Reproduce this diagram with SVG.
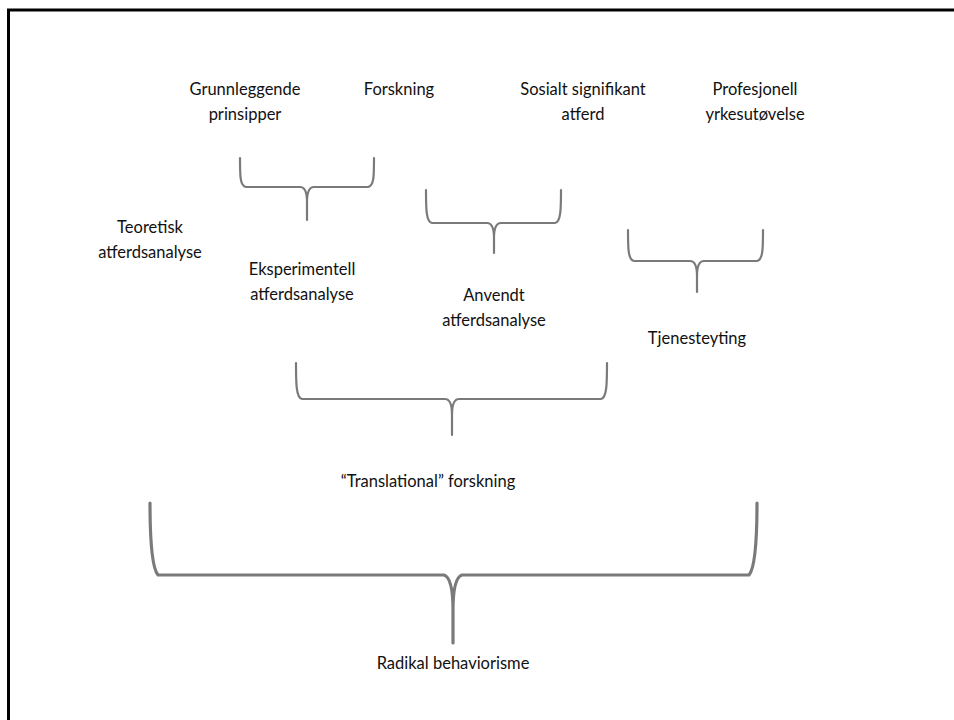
<svg xmlns="http://www.w3.org/2000/svg" width="954" height="720" viewBox="0 0 954 720">
<style>
.t{font-family:"Lato","Open Sans","Liberation Sans",sans-serif;font-size:16.5px;fill:#111;text-anchor:middle}
.b{fill:none;stroke:#7a7a7a;stroke-width:2.2;stroke-linejoin:round;stroke-linecap:round}
.bb{fill:none;stroke:#7a7a7a;stroke-width:3.2;stroke-linejoin:round;stroke-linecap:round}
</style>
<rect x="0" y="0" width="954" height="720" fill="#fff"/>
<rect x="8.5" y="10" width="1000" height="1000" fill="none" stroke="#000" stroke-width="3"/>
<g id="connectors">
<path class="b" d="M240,158 C240,176 240,186 246,187 L300,187 C305,187 307,192 307,202 L307,220 M374,158 C374,176 374,186 368,187 L314,187 C309,187 307,192 307,202"/>
<path class="b" d="M426,190 C426,208 426,222 432,223 L487,223 C492,223 494,228 494,238 L494,253 M561,190 C561,208 561,222 555,223 L501,223 C496,223 494,228 494,238"/>
<path class="b" d="M628,230 C628,248 628,260 634,261 L690,261 C695,261 697,266 697,276 L697,292 M763,230 C763,248 763,260 757,261 L704,261 C699,261 697,266 697,276"/>
<path class="b" d="M296,363 C296,382 296,398 302,399 L445,399 C450,399 452,405 452,415 L452,435 M607,363 C607,382 607,398 601,399 L459,399 C454,399 452,405 452,415"/>
<path class="bb" d="M150,503 C150,540 152,568 158,575 L444,575 C450,577 453,590 453,610 L453,643 M757,503 C757,540 755,568 749,575 L462,575 C456,577 453,590 453,610"/>
</g>
<g id="n-grunnleggende"><text class="t" x="245" y="95">Grunnleggende</text><text class="t" x="245" y="120">prinsipper</text></g>
<g id="n-forskning"><text class="t" x="399" y="95">Forskning</text></g>
<g id="n-sosialt"><text class="t" x="583" y="95">Sosialt signifikant</text><text class="t" x="583" y="120">atferd</text></g>
<g id="n-profesjonell"><text class="t" x="755" y="95">Profesjonell</text><text class="t" x="755" y="120">yrkesutøvelse</text></g>
<g id="n-teoretisk"><text class="t" x="150" y="233">Teoretisk</text><text class="t" x="150" y="258">atferdsanalyse</text></g>
<g id="n-eksperimentell"><text class="t" x="302" y="275">Eksperimentell</text><text class="t" x="302" y="300">atferdsanalyse</text></g>
<g id="n-anvendt"><text class="t" x="494" y="301">Anvendt</text><text class="t" x="494" y="326">atferdsanalyse</text></g>
<g id="n-tjenesteyting"><text class="t" x="697" y="344">Tjenesteyting</text></g>
<g id="n-translational"><text class="t" x="428" y="487">“Translational” forskning</text></g>
<g id="n-radikal"><text class="t" x="453" y="669">Radikal behaviorisme</text></g>
</svg>
